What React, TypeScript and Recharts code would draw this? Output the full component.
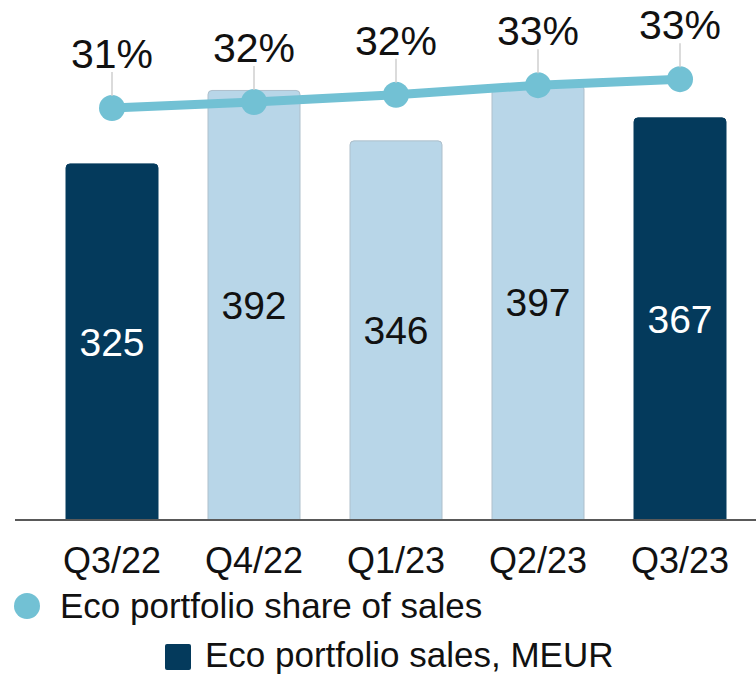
import React from 'react';
import { ComposedChart, Bar, Line, XAxis, YAxis, Cell, Legend } from 'recharts';

const categories = ['Q3/22', 'Q4/22', 'Q1/23', 'Q2/23', 'Q3/23'];
const salesValues = [325, 392, 346, 397, 367];
const shareValues = [31.0, 31.5, 32.1, 32.9, 33.4];
const highlighted = [true, false, false, false, true];
const seriesNames = ['Eco portfolio share of sales', 'Eco portfolio sales, MEUR'];

const data = categories.map((cat, i) => ({ cat, sales: salesValues[i], share: shareValues[i] }));

const NAVY = '#043a5c';
const LIGHT = '#b8d6e8';
const TEAL = '#72c1d4';
const ARIAL = "'Liberation Sans', Arial, sans-serif";

const PctLabel = (props: any) => {
  const { x, y, value } = props;
  return (
    <g>
      <line x1={x} y1={y - 36} x2={x} y2={y - 12} stroke="#cfcfcf" strokeWidth={1.5} />
      <text
        x={x}
        y={y - 40}
        textAnchor="middle"
        fontSize={41}
        fontFamily={ARIAL}
        fill="#111"
        stroke="#fff"
        strokeWidth={5}
        strokeLinejoin="round"
        style={{ paintOrder: 'stroke' }}
      >
        {Math.round(value)}%
      </text>
    </g>
  );
};

const BarLabel = (props: any) => {
  const { x, y, width, height, value, index } = props;
  return (
    <text
      x={x + width / 2}
      y={y + height / 2 + 14}
      textAnchor="middle"
      fontSize={39}
      fontFamily={ARIAL}
      fill={highlighted[index] ? '#fff' : '#111'}
    >
      {value}
    </text>
  );
};

const Tick = (props: any) => {
  const { x, y, payload } = props;
  return (
    <text x={x} y={y + 53} textAnchor="middle" fontSize={36} fontFamily={ARIAL} fill="#111">
      {payload.value}
    </text>
  );
};

const LegendContent = () => (
  <svg width={756} height={95} style={{ overflow: 'visible', display: 'block' }}>
    <circle cx={27} cy={26} r={13} fill={TEAL} />
    <text x={60} y={38} fontSize={35} fontFamily={ARIAL} fill="#111">
      {seriesNames[0]}
    </text>
    <rect x={165} y={64} width={26} height={26} rx={2} fill={NAVY} />
    <text x={205} y={87} fontSize={35} fontFamily={ARIAL} fill="#111">
      {seriesNames[1]}
    </text>
  </svg>
);

export default function App() {
  return (
    <div style={{ position: 'absolute', left: 0, top: 0, width: 756, height: 675, background: '#fff' }}>
      <ComposedChart width={756} height={675} data={data} margin={{ top: 5, right: 0, left: 15, bottom: 0 }}>
        <XAxis
          dataKey="cat"
          axisLine={{ stroke: '#595959', strokeWidth: 2 }}
          tickLine={false}
          tickSize={0}
          tickMargin={0}
          height={60}
          padding={{ left: 26, right: 5 }}
          tick={<Tick />}
          interval={0}
        />
        <YAxis yAxisId="sales" hide domain={[0, 470]} />
        <YAxis yAxisId="pct" hide orientation="right" domain={[-3.33, 39.58]} allowDataOverflow />
        <Legend
          verticalAlign="bottom"
          height={95}
          wrapperStyle={{ left: 0, bottom: 0, width: 756, height: 95 }}
          content={<LegendContent />}
        />
        <Bar yAxisId="sales" dataKey="sales" barSize={92} isAnimationActive={false} label={<BarLabel />} radius={[4, 4, 0, 0]}>
          {data.map((d, i) => (
            <Cell
              key={d.cat}
              fill={highlighted[i] ? NAVY : LIGHT}
              stroke={highlighted[i] ? NAVY : '#aebfcb'}
              strokeWidth={1}
            />
          ))}
        </Bar>
        <Line
          yAxisId="pct"
          dataKey="share"
          stroke={TEAL}
          strokeWidth={9}
          dot={{ r: 13, fill: TEAL, stroke: 'none' }}
          activeDot={false}
          label={<PctLabel />}
          isAnimationActive={false}
        />
      </ComposedChart>
    </div>
  );
}
